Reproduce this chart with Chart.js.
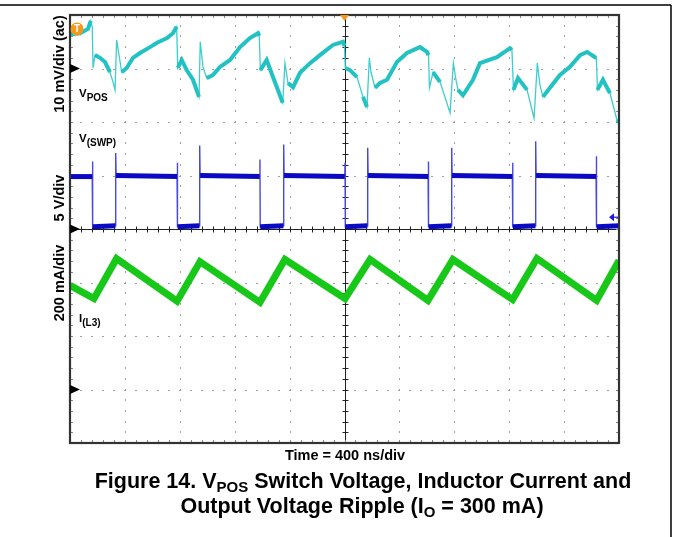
<!DOCTYPE html>
<html><head><meta charset="utf-8">
<script src="https://cdn.jsdelivr.net/npm/chart.js@4/dist/chart.umd.min.js"></script>
<style>
html,body{margin:0;padding:0;background:#fff;}
#wrap{position:relative;width:673px;height:537px;overflow:hidden;font-family:"Liberation Sans",Arial,sans-serif;color:#000;}
#c{position:absolute;left:0;top:0;}
.lbl{position:absolute;font-weight:bold;white-space:nowrap;line-height:1;}
.rot{transform:translate(-50%,-50%) rotate(-90deg);font-size:14.5px;}
.ch{font-size:11.5px;}
.ch sub{font-size:10px;vertical-align:-4px;line-height:0;}
.cap{font-size:21.5px;transform:translateX(-50%);}
.cap sub{font-size:15px;vertical-align:-4px;line-height:0;}
</style>
</head><body>
<div id="wrap">
<canvas id="c" width="673" height="537"></canvas>
<div class="lbl rot" style="left:59px;top:64px;">10 mV/div (ac)</div>
<div class="lbl rot" style="left:59px;top:198px;">5 V/div</div>
<div class="lbl rot" style="left:59px;top:283px;">200 mA/div</div>
<div class="lbl ch" style="left:79px;top:88px;">V<sub>POS</sub></div>
<div class="lbl ch" style="left:79px;top:133px;">V<sub>(SWP)</sub></div>
<div class="lbl ch" style="left:79px;top:313px;">I<sub>(L3)</sub></div>
<div class="lbl" style="left:345px;top:448px;font-size:14.5px;transform:translateX(-50%);">Time = 400 ns/div</div>
<div class="lbl cap" style="left:363px;top:471px;">Figure 14. V<sub>POS</sub> Switch Voltage, Inductor Current and</div>
<div class="lbl cap" style="left:362px;top:496px;">Output Voltage Ripple (I<sub>O</sub> = 300 mA)</div>
</div>
<script>
// ---- time base (ns) ----
const timeRange = [0, 4000];
const nsPerDiv = 400;
const triggerTime = 2000;

// ---- channel scales: [min, max] ----
const vposRange = [-70, 10];     // mV (ac), 10 mV/div
const swpRange = [-20, 20];      // V, 5 V/div
const ilRange = [-200, 1400];    // mA, 200 mA/div
const vposTriggerLevel = 7.4;    // mV

// ---- Channel 1: V_POS ripple (mV, ac) ----
const vposTimes = [0,73,131,151,162,168,182,219,255,291,313,328,340,377,413,459,510,583,634,707,750,777,
  785,814,850,896,940,949,969,996,1042,1093,1166,1239,1311,1370,1379,1387,1433,1479,1550,1566,1588,1625,
  1676,1749,1821,1916,1989,2000,2006,2040,2091,2135,2164,2181,2193,2222,2259,2310,2382,2455,2550,2601,
  2612,2619,2645,2696,2769,2793,2812,2827,2863,2936,2987,3111,3206,3220,3231,3264,3330,3381,3405,3424,
  3446,3497,3570,3643,3716,3767,3825,3835,3843,3883,3934,3985,4000];
const vposRipple = [6.4,6.6,7.4,8.9,7.8,0.1,2.5,2.0,1.2,-0.7,-2.5,-4.0,5.3,-0.7,0.1,2.0,2.9,4.0,4.8,5.7,6.6,7.8,
  0.1,1.6,-0.3,-2.1,-5.3,5.0,0.3,-1.8,-1.2,0.3,1.6,4.0,5.7,6.6,6.1,-0.3,1.6,-1.6,-6.4,1.0,-2.7,-3.5,
  -0.8,1.0,2.5,4.4,5.0,4.2,0.1,-0.3,-1.6,-5.3,-7.2,2.0,-0.7,-3.6,-2.7,-2.1,1.2,2.9,4.0,3.1,
  2.5,-3.6,-0.7,-2.5,-8.3,1.0,-2.1,-4.0,-5.0,-2.1,1.0,2.1,3.8,3.5,-4.0,-1.8,-4.0,-9.3,1.0,-3.1,
  -5.3,-3.6,-1.2,0.3,2.5,3.1,2.1,2.0,-4.0,-2.1,-4.6,-9.6,-10.0];

// ---- Channel 2: switch node V(SWP) (V) ----
const swpTimes = [0,162,164,166,331,333,336,780,782,784,943,945,948,1382,1384,1386,1555,1557,1560,
  2002,2004,2006,2167,2169,2172,2609,2611,2613,2779,2781,2784,3223,3225,3227,3391,3393,3396,3833,3835,3837,4000];
const swpVolts = [4.9,4.9,6.3,0.2,0.3,7.1,5.0,4.9,6.2,0.2,0.3,7.8,5.0,4.9,6.5,0.2,0.3,7.9,5.0,
  4.9,6.2,0.2,0.3,7.6,5.0,4.9,6.3,0.2,0.3,7.6,5.0,4.9,6.2,0.2,0.3,8.2,5.0,4.9,6.8,0.2,0.3];

// ---- Channel 3: inductor current I(L3) (mA) ----
const ilTimes = [0,175,339,780,947,1384,1566,2004,2186,2608,2790,3225,3402,3837,4000];
const ilCurrent = [389,340,489,330,478,326,486,340,486,333,486,336,490,333,482];

const pts = (ts, vs) => ts.map((t, i) => ({x: t, y: vs[i]}));
// thick "noise band" only on slow segments; fast edges are left to the thin trace
const bandColor = (color) => ctx => {
  const dx = Math.abs(ctx.p1.x - ctx.p0.x), dy = Math.abs(ctx.p1.y - ctx.p0.y);
  return dy > 3 * dx ? 'rgba(0,0,0,0)' : color;
};

const scopePlugin = {
  id: 'scope',
  beforeDraw(chart) {
    const ctx = chart.ctx, a = chart.chartArea;
    ctx.save();
    ctx.strokeStyle = '#000'; ctx.lineWidth = 1.5;
    ctx.beginPath();
    ctx.moveTo(0, 5); ctx.lineTo(a.right + 52, 5);
    ctx.moveTo(a.right + 52, 5); ctx.lineTo(a.right + 52, chart.height);
    ctx.stroke();
    ctx.restore();
  },
  beforeDatasetsDraw(chart) {
    const ctx = chart.ctx, a = chart.chartArea;
    const xs = chart.scales.x, ys = chart.scales.y2;
    const vDiv = (swpRange[1] - swpRange[0]) / 8;
    ctx.save();
    ctx.fillStyle = '#a0a0a0';
    const xMinor = [], yMinor = [];
    for (let t = timeRange[0]; t <= timeRange[1] + 1e-6; t += nsPerDiv / 5) xMinor.push(Math.round(xs.getPixelForValue(t)));
    for (let v = swpRange[0]; v <= swpRange[1] + 1e-6; v += vDiv / 5) yMinor.push(Math.round(ys.getPixelForValue(v)));
    for (let t = timeRange[0] + nsPerDiv; t < timeRange[1]; t += nsPerDiv) {
      if (t === triggerTime) continue;
      const px = Math.round(xs.getPixelForValue(t));
      yMinor.forEach(py => ctx.fillRect(px, py - 1, 1, 2));
    }
    for (let v = swpRange[0] + vDiv; v < swpRange[1]; v += vDiv) {
      if (v === 0) continue;
      const py = Math.round(ys.getPixelForValue(v));
      xMinor.forEach(px => ctx.fillRect(px - 1, py, 2, 1));
    }
    const cx = Math.round(xs.getPixelForValue(triggerTime)) + 0.5;
    const cy = Math.round(ys.getPixelForValue(0)) + 0.5;
    ctx.strokeStyle = '#222'; ctx.lineWidth = 1;
    ctx.beginPath();
    ctx.moveTo(a.left, cy); ctx.lineTo(a.right, cy);
    ctx.moveTo(cx, a.top); ctx.lineTo(cx, a.bottom);
    xMinor.forEach(px => { ctx.moveTo(px + 0.5, cy - 3); ctx.lineTo(px + 0.5, cy + 3); });
    yMinor.forEach(py => { ctx.moveTo(cx - 3, py + 0.5); ctx.lineTo(cx + 3, py + 0.5); });
    ctx.stroke();
    ctx.strokeStyle = '#888';
    ctx.beginPath();
    xMinor.forEach(px => { ctx.moveTo(px + 0.5, a.top); ctx.lineTo(px + 0.5, a.top + 3); ctx.moveTo(px + 0.5, a.bottom); ctx.lineTo(px + 0.5, a.bottom - 3); });
    yMinor.forEach(py => { ctx.moveTo(a.left, py + 0.5); ctx.lineTo(a.left + 3, py + 0.5); ctx.moveTo(a.right, py + 0.5); ctx.lineTo(a.right - 3, py + 0.5); });
    ctx.stroke();
    ctx.restore();
  },
  afterDatasetsDraw(chart) {
    const ctx = chart.ctx, a = chart.chartArea, s = chart.scales;
    ctx.save();
    ctx.strokeStyle = '#333'; ctx.lineWidth = 2.2;
    ctx.strokeRect(a.left, a.top, a.right - a.left, a.bottom - a.top);
    ctx.fillStyle = '#000';
    [s.y1.getPixelForValue(0), s.y2.getPixelForValue(0), s.y3.getPixelForValue(0)].forEach(py => {
      ctx.beginPath();
      ctx.moveTo(a.left, py - 4.5); ctx.lineTo(a.left + 10, py); ctx.lineTo(a.left, py + 4.5);
      ctx.closePath(); ctx.fill();
    });
    const tx = s.x.getPixelForValue(triggerTime);
    ctx.fillStyle = '#f39a1c';
    ctx.beginPath();
    ctx.moveTo(tx - 4.5, a.top); ctx.lineTo(tx + 4.5, a.top); ctx.lineTo(tx, a.top + 6);
    ctx.closePath(); ctx.fill();
    const ty = s.y1.getPixelForValue(vposTriggerLevel);
    ctx.beginPath(); ctx.arc(a.left + 7, ty, 6.5, 0, Math.PI * 2); ctx.fill();
    ctx.fillStyle = '#fff';
    ctx.font = 'bold 10px "Liberation Sans", Arial, sans-serif';
    ctx.textAlign = 'center'; ctx.textBaseline = 'middle';
    ctx.fillText('T', a.left + 7, ty + 0.5);
    const ay = s.y2.getPixelForValue(1.1);
    ctx.strokeStyle = '#1a1ae0'; ctx.fillStyle = '#1a1ae0'; ctx.lineWidth = 1.2;
    ctx.beginPath(); ctx.moveTo(a.right - 8, ay); ctx.lineTo(a.right - 1, ay); ctx.stroke();
    ctx.beginPath(); ctx.moveTo(a.right - 10, ay); ctx.lineTo(a.right - 5, ay - 4); ctx.lineTo(a.right - 5, ay + 4); ctx.closePath(); ctx.fill();
    ctx.restore();
  }
};

const CYAN = '#22c2c2', BLUE = '#0a0ac4', GREEN = '#18c818';
new Chart(document.getElementById('c'), {
  type: 'line',
  data: {
    datasets: [
      {label: 'V_POS band', data: pts(vposTimes, vposRipple), yAxisID: 'y1', borderColor: CYAN, borderWidth: 4, pointRadius: 0, tension: 0,
       segment: {borderColor: bandColor(CYAN)}},
      {label: 'V_POS', data: pts(vposTimes, vposRipple), yAxisID: 'y1', borderColor: '#3fcccc', borderWidth: 1.3, pointRadius: 0, tension: 0},
      {label: 'V(SWP) band', data: pts(swpTimes, swpVolts), yAxisID: 'y2', borderColor: BLUE, borderWidth: 5, pointRadius: 0, tension: 0,
       segment: {borderColor: bandColor(BLUE)}},
      {label: 'V(SWP)', data: pts(swpTimes, swpVolts), yAxisID: 'y2', borderColor: '#4848dc', borderWidth: 1.4, pointRadius: 0, tension: 0},
      {label: 'I(L3)', data: pts(ilTimes, ilCurrent), yAxisID: 'y3', borderColor: GREEN, borderWidth: 7, pointRadius: 0, tension: 0}
    ]
  },
  options: {
    responsive: false, animation: false, devicePixelRatio: 1,
    layout: {padding: {left: 70, right: 54, top: 15, bottom: 94}},
    plugins: {legend: {display: false}, tooltip: {enabled: false}},
    scales: {
      x: {type: 'linear', min: timeRange[0], max: timeRange[1], display: false},
      y1: {type: 'linear', min: vposRange[0], max: vposRange[1], display: false},
      y2: {type: 'linear', min: swpRange[0], max: swpRange[1], display: false},
      y3: {type: 'linear', min: ilRange[0], max: ilRange[1], display: false}
    }
  },
  plugins: [scopePlugin]
});
</script>
</body></html>
